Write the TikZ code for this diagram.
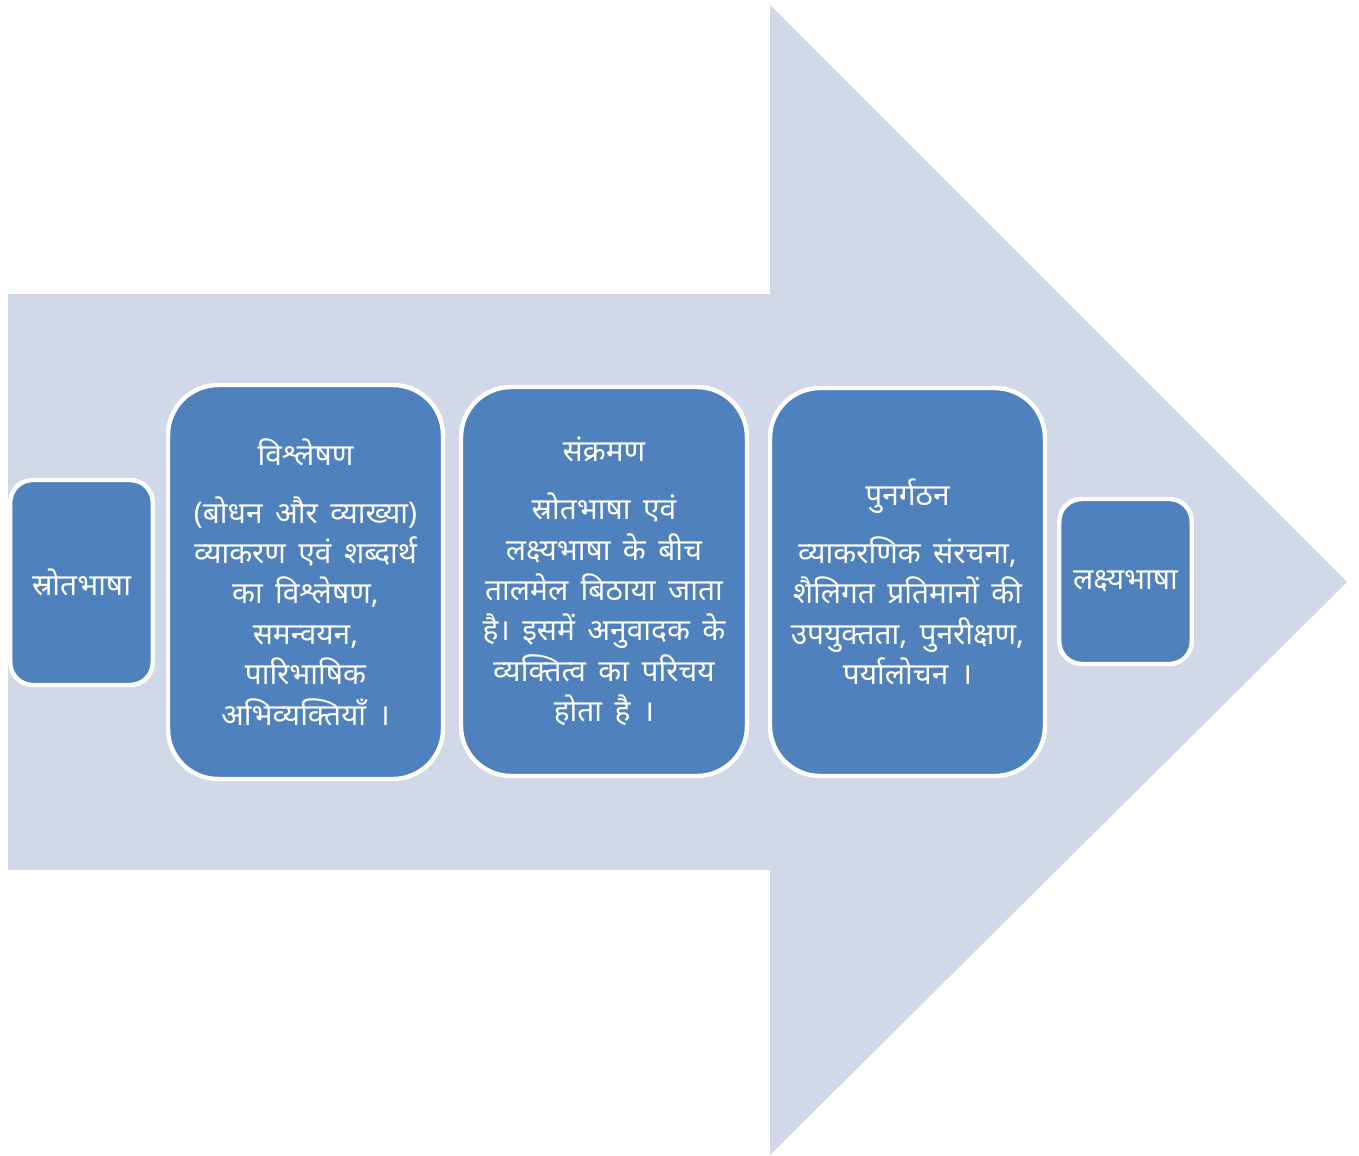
\documentclass[tikz,border=0pt]{standalone}
\usepackage{fontspec}
\newfontfamily\hindi[Script=Devanagari,WordSpace=1.6]{Noto Sans}
\definecolor{arrowfill}{HTML}{D1D8E8}
\definecolor{boxfill}{HTML}{4F81BD}

\begin{document}
\begin{tikzpicture}[x=0.02cm,y=-0.02cm]

  % Definitions
  \tikzstyle{stage} = [rectangle, rounded corners=1cm, fill=boxfill, draw=white, line width=2.5pt, text=white, align=center, font=\hindi\fontsize{17}{23}\selectfont]
  \tikzstyle{lang} = [stage, rounded corners=0.45cm]

  \useasboundingbox (0,0) rectangle (1359,1156);

  % big background arrow
  \fill[arrowfill] (8,294) -- (770,294) -- (770,5) -- (1347,582) -- (770,1155) -- (770,870) -- (8,870) -- cycle;

  \node (src) [lang, minimum width=2.85cm, minimum height=4.1cm] at (81.5,582.5) {स्रोतभाषा};
  \node (analysis) [stage, minimum width=5.5cm, minimum height=7.88cm] at (305.5,582) {विश्लेषण\\[0.35cm](बोधन और व्याख्या)\\व्याकरण एवं शब्दार्थ\\का विश्लेषण,\\समन्वयन,\\पारिभाषिक\\अभिव्यक्तियाँ ।};
  \node (transfer) [stage, minimum width=5.72cm, minimum height=7.78cm] at (604,581.5) {संक्रमण\\[0.35cm]स्रोतभाषा एवं\\लक्ष्यभाषा के बीच\\तालमेल बिठाया जाता\\है। इसमें अनुवादक के\\व्यक्तित्व का परिचय\\होता है ।};
  \node (restructure) [stage, minimum width=5.5cm, minimum height=7.76cm] at (907.5,582) {पुनर्गठन\\[0.35cm]व्याकरणिक संरचना,\\शैलिगत प्रतिमानों की\\उपयुक्तता, पुनरीक्षण,\\पर्यालोचन ।};
  \node (tgt) [lang, minimum width=2.65cm, minimum height=3.3cm] at (1125.5,581.5) {लक्ष्यभाषा};

\end{tikzpicture}
\end{document}
